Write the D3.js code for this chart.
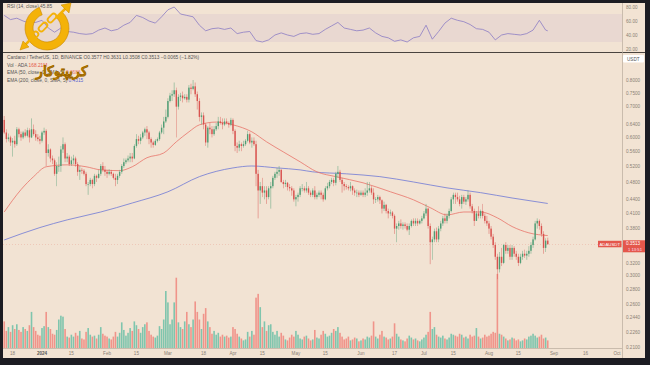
<!DOCTYPE html>
<html><head><meta charset="utf-8">
<script src="https://cdn.jsdelivr.net/npm/d3@7/dist/d3.min.js"></script>
<style>
html,body{margin:0;padding:0;background:#1c1c22;}
svg{display:block;}
text{font-family:"Liberation Sans",Arial,sans-serif;}
</style></head><body>
<svg id="c" width="650" height="365"></svg>
<script>
// ---------------- DATA ----------------
const startDate = "2023-12-14"; // first daily candle
const firstOpen = 0.655;
const closes = [
 0.615,0.595,0.600,0.585,0.590,0.580,0.625,0.610,0.600,0.615,0.605,0.622,0.600,0.625,0.610,0.600,0.595,0.590,
 0.615,0.620,0.555,0.565,0.540,0.535,0.500,0.520,0.520,0.565,0.580,0.540,0.545,0.525,0.535,0.540,0.525,0.505,0.510,0.508,0.500,0.475,0.475,0.485,0.475,0.495,0.490,0.500,0.520,0.510,0.505,
 0.500,0.505,0.500,0.490,0.485,0.495,0.505,0.520,0.530,0.535,0.540,0.545,0.540,0.575,0.595,0.590,0.600,0.615,0.625,0.615,0.595,0.585,0.578,0.590,0.595,0.615,0.630,0.650,0.665,
 0.720,0.740,0.745,0.760,0.700,0.735,0.740,0.730,0.735,0.725,0.770,0.765,0.775,0.745,0.720,0.665,0.670,0.640,0.585,0.630,0.625,0.610,0.625,0.635,0.650,0.645,0.640,0.650,0.645,0.640,0.655,
 0.620,0.575,0.570,0.580,0.575,0.580,0.590,0.610,0.585,0.590,0.580,0.500,0.460,0.470,0.455,0.460,0.445,0.465,0.470,0.490,0.500,0.505,0.510,0.480,0.475,0.478,0.468,0.465,0.460,0.440,
 0.445,0.450,0.465,0.465,0.460,0.465,0.455,0.450,0.460,0.445,0.450,0.455,0.450,0.440,0.465,0.470,0.480,0.485,0.478,0.500,0.505,0.485,0.475,0.470,0.468,0.465,0.470,0.460,0.455,0.455,0.450,
 0.455,0.450,0.455,0.460,0.465,0.455,0.440,0.440,0.445,0.438,0.420,0.428,0.415,0.410,0.412,0.405,0.380,0.385,0.390,0.385,0.388,0.385,0.378,0.385,0.395,0.390,0.395,0.390,0.395,0.400,
 0.410,0.420,0.385,0.355,0.360,0.375,0.360,0.380,0.390,0.400,0.395,0.405,0.415,0.440,0.450,0.445,0.440,0.430,0.445,0.435,0.440,0.450,0.425,0.415,0.395,0.410,0.405,0.415,0.405,0.395,0.390,
 0.380,0.365,0.350,0.330,0.310,0.330,0.320,0.350,0.340,0.345,0.330,0.345,0.335,0.330,0.320,0.330,0.335,0.332,0.335,0.340,0.350,0.360,0.390,0.395,0.385,0.370,0.345,0.3578,0.3513
];
const highs = [
 0.668,0.625,0.612,0.605,0.598,0.605,0.632,0.630,0.618,0.620,0.625,0.630,0.628,0.660,0.640,0.622,0.610,0.605,
 0.620,0.630,0.625,0.580,0.568,0.548,0.540,0.530,0.545,0.575,0.600,0.585,0.555,0.550,0.545,0.550,0.545,0.530,0.520,0.515,0.512,0.505,0.480,0.490,0.488,0.500,0.498,0.510,0.525,0.530,0.520,
 0.510,0.512,0.510,0.503,0.500,0.500,0.510,0.525,0.540,0.540,0.548,0.555,0.555,0.580,0.610,0.605,0.610,0.620,0.630,0.635,0.620,0.600,0.590,0.595,0.600,0.620,0.640,0.665,0.690,
 0.730,0.750,0.760,0.790,0.770,0.745,0.750,0.755,0.745,0.745,0.780,0.785,0.800,0.790,0.755,0.730,0.680,0.680,0.645,0.635,0.645,0.635,0.635,0.645,0.665,0.665,0.660,0.660,0.660,0.650,0.662,
 0.660,0.625,0.585,0.590,0.585,0.590,0.595,0.620,0.615,0.600,0.600,0.590,0.510,0.480,0.490,0.470,0.470,0.470,0.480,0.495,0.505,0.515,0.520,0.512,0.485,0.485,0.480,0.475,0.470,0.465,
 0.450,0.455,0.470,0.475,0.470,0.480,0.470,0.460,0.465,0.470,0.455,0.460,0.460,0.455,0.470,0.478,0.485,0.490,0.490,0.505,0.520,0.510,0.490,0.480,0.475,0.472,0.480,0.472,0.465,0.462,0.460,
 0.460,0.460,0.465,0.480,0.480,0.470,0.465,0.445,0.450,0.448,0.440,0.435,0.430,0.420,0.418,0.415,0.408,0.390,0.395,0.398,0.392,0.392,0.390,0.390,0.398,0.400,0.400,0.400,0.398,0.405,
 0.415,0.430,0.422,0.390,0.365,0.380,0.382,0.385,0.395,0.405,0.410,0.410,0.420,0.445,0.455,0.455,0.455,0.448,0.450,0.450,0.445,0.460,0.455,0.430,0.420,0.415,0.425,0.418,0.430,0.410,0.405,
 0.395,0.385,0.370,0.355,0.335,0.338,0.345,0.352,0.355,0.350,0.350,0.350,0.348,0.340,0.335,0.335,0.340,0.342,0.340,0.348,0.355,0.365,0.395,0.400,0.398,0.390,0.375,0.362,0.3631
];
const lows = [
 0.610,0.585,0.588,0.575,0.545,0.570,0.575,0.600,0.590,0.595,0.600,0.600,0.585,0.598,0.605,0.590,0.588,0.580,
 0.585,0.608,0.520,0.545,0.530,0.525,0.495,0.470,0.505,0.505,0.555,0.530,0.530,0.520,0.520,0.525,0.518,0.495,0.485,0.500,0.496,0.470,0.450,0.470,0.465,0.470,0.480,0.488,0.495,0.505,0.495,
 0.490,0.496,0.495,0.486,0.470,0.475,0.490,0.500,0.515,0.525,0.530,0.530,0.530,0.538,0.570,0.580,0.580,0.595,0.605,0.595,0.580,0.570,0.570,0.575,0.585,0.590,0.610,0.610,0.645,
 0.660,0.715,0.720,0.735,0.600,0.690,0.720,0.715,0.725,0.715,0.715,0.745,0.760,0.735,0.690,0.650,0.640,0.625,0.575,0.570,0.610,0.600,0.605,0.620,0.625,0.640,0.625,0.635,0.640,0.630,0.635,
 0.610,0.560,0.555,0.560,0.560,0.570,0.575,0.585,0.580,0.570,0.575,0.470,0.400,0.430,0.445,0.440,0.430,0.440,0.420,0.465,0.485,0.490,0.495,0.478,0.465,0.468,0.460,0.458,0.448,0.435,
 0.425,0.435,0.445,0.458,0.455,0.455,0.450,0.445,0.445,0.440,0.440,0.445,0.440,0.435,0.438,0.460,0.465,0.475,0.470,0.472,0.490,0.480,0.455,0.460,0.462,0.460,0.458,0.450,0.448,0.445,0.445,
 0.448,0.445,0.445,0.448,0.455,0.450,0.430,0.432,0.435,0.430,0.410,0.415,0.410,0.400,0.405,0.400,0.370,0.355,0.378,0.380,0.378,0.380,0.375,0.368,0.382,0.385,0.385,0.385,0.388,0.390,
 0.398,0.405,0.380,0.318,0.325,0.355,0.355,0.355,0.375,0.385,0.390,0.390,0.400,0.412,0.430,0.430,0.435,0.425,0.420,0.430,0.428,0.435,0.420,0.410,0.385,0.395,0.400,0.400,0.400,0.390,0.385,
 0.370,0.360,0.345,0.325,0.295,0.305,0.315,0.318,0.335,0.335,0.325,0.325,0.330,0.325,0.315,0.318,0.325,0.328,0.325,0.330,0.335,0.345,0.358,0.380,0.378,0.365,0.335,0.338,0.3508
];
const volumes = [ // millions
 840,540,660,510,720,600,750,570,510,660,600,540,720,1140,660,540,420,390,
 630,690,1140,660,600,450,420,570,900,1020,990,600,360,330,420,360,480,390,540,300,270,510,630,420,360,390,300,420,660,450,390,
 360,300,270,360,510,360,480,810,570,390,480,630,540,840,720,600,480,660,750,810,540,420,360,330,390,690,600,900,1800,
 1440,750,900,1440,2220,810,660,600,840,1140,750,660,900,1470,1140,900,600,1080,1260,840,660,450,540,420,480,360,420,360,390,330,360,
 660,600,450,360,300,240,270,510,360,540,420,1590,1710,1290,660,840,540,720,750,510,420,540,360,480,390,270,240,330,420,360,
 540,420,300,270,360,390,300,240,270,570,330,300,420,540,450,360,390,480,600,540,660,480,360,270,300,360,240,270,330,300,210,
 240,300,270,360,330,390,840,360,300,420,540,360,330,270,300,360,780,450,360,270,240,210,300,390,330,270,300,240,210,270,
 330,420,510,1140,600,660,420,360,330,390,300,270,330,450,420,390,360,450,420,330,360,300,420,360,390,630,360,300,330,420,360,
 390,450,510,480,2340,450,420,360,300,240,270,330,300,240,270,210,240,300,270,360,390,450,390,330,360,420,300,330,240
];
const rsiDay = [0,3,6,9,12,15,18,21,24,27,30,33,36,39,42,45,48,51,54,57,60,63,66,69,72,75,78,81,84,87,90,93,96,99,102,105,108,111,114,117,120,123,126,129,132,135,138,141,144,147,150,153,156,159,162,165,168,171,174,177,180,183,186,189,192,195,198,201,204,207,210,213,216,219,222,225,228,231,234,237,240,243,246,249,252,255,258,259];
const rsiVal = [68,62,64,60,57,58,61,50,44,50,45,44,42,41,42,47,50,46,48,54,58,68,65,60,57,66,76,80,70,68,66,54,46,49,50,48,50,42,44,45,32,30,33,40,43,40,38,42,43,41,42,48,53,58,50,48,46,47,50,43,38,36,31,33,30,36,38,54,34,45,57,64,61,59,55,49,48,44,33,40,42,41,40,42,47,61,47,46];
// EMA lines
const ema50Day = [0,8,14,20,30,39,46,55,61,68,76,82,88,93,101,109,118,125,133,141,149,158,171,184,195,203,211,219,227,235,242,250,259];
const ema50Val = [0.413,0.462,0.493,0.518,0.523,0.518,0.510,0.508,0.518,0.542,0.555,0.587,0.617,0.639,0.648,0.639,0.617,0.587,0.558,0.531,0.505,0.493,0.478,0.457,0.439,0.422,0.407,0.413,0.413,0.401,0.384,0.372,0.367];
const ema200Day = [0,17,30,46,61,78,93,109,118,130,141,147,163,179,195,211,227,242,259];
const ema200Val = [0.359,0.382,0.397,0.413,0.432,0.457,0.493,0.515,0.520,0.515,0.510,0.505,0.500,0.493,0.480,0.466,0.455,0.443,0.431];
// axis tick labels
const priceTicks = [0.80,0.75,0.70,0.64,0.60,0.56,0.52,0.48,0.44,0.41,0.38,0.32,0.30,0.28,0.26,0.244,0.226,0.21];
const rsiTicks = [80,60,40,20];
const timeTickDates = ["2023-12-18","2024-01-01","2024-01-15","2024-02-01","2024-02-15","2024-03-01","2024-03-18","2024-04-01","2024-04-15","2024-05-01","2024-05-15","2024-06-01","2024-06-17","2024-07-01","2024-07-15","2024-08-01","2024-08-15","2024-09-01","2024-09-16","2024-10-01"];
const timeTickLabels = ["18","2024","15","Feb","15","Mar","18","Apr","15","May","15","Jun","17","Jul","15","Aug","15","Sep","16","Oct"];
const lastPrice = 0.3513;

// ---------------- DRAW ----------------
const svg = d3.select("#c");
const W = 650, H = 365;
const BG = "#f2e3d3", FRAME = "#1c1c22", SEP = "#4a443f", AX = "#8a7f74";
const UP = "#4f9d74", DN = "#d9534f";
const L = 3, R = 622, RSI_T = 3, RSI_B = 52, MAIN_T = 53, MAIN_B = 348.5, TIME_B = 358;

const day0 = new Date(startDate + "T00:00:00Z").getTime();
const dateOf = i => new Date(day0 + i * 864e5);
const opens = closes.map((c, i) => i === 0 ? firstOpen : closes[i - 1]);
const candles = closes.map((c, i) => ({d: dateOf(i), o: opens[i], h: highs[i], l: lows[i], c: c, v: volumes[i]}));

const x = d3.scaleUtc().domain([new Date("2024-01-01T00:00:00Z"), new Date("2024-10-01T00:00:00Z")]).range([42, 617]);
const y = d3.scaleLog().domain([0.8, 0.21]).range([80, 347]);
const yv = d3.scaleLinear().domain([0, 2400]).range([348, 272]);
const yr = d3.scaleLinear().domain([20, 80]).range([49, 7]);

svg.append("rect").attr("width", W).attr("height", H).attr("fill", FRAME);
svg.append("rect").attr("x", L).attr("y", RSI_T).attr("width", 645 - L).attr("height", TIME_B - RSI_T).attr("fill", BG);

const defs = svg.append("defs");
defs.append("clipPath").attr("id", "mainclip").append("rect").attr("x", L).attr("y", MAIN_T).attr("width", R - L).attr("height", MAIN_B - MAIN_T);
defs.append("clipPath").attr("id", "rsiclip").append("rect").attr("x", L).attr("y", RSI_T).attr("width", R - L).attr("height", RSI_B - RSI_T);

// RSI pane
const rsiG = svg.append("g").attr("clip-path", "url(#rsiclip)");
rsiG.append("rect").attr("x", L).attr("width", R - L).attr("y", yr(70)).attr("height", yr(30) - yr(70)).attr("fill", "#7e57c2").attr("opacity", 0.075);
rsiG.append("path").datum(rsiDay.map((d, i) => [dateOf(d), rsiVal[i]]))
  .attr("d", d3.line().x(d => x(d[0])).y(d => yr(d[1])))
  .attr("fill", "none").attr("stroke", "#8b7cc4").attr("stroke-width", 0.8);
rsiTicks.forEach(t => svg.append("text").attr("x", 626).attr("y", yr(t) + 1.7).attr("font-size", 4.6).attr("fill", AX).text(t.toFixed(2)));
svg.append("text").attr("x", 7).attr("y", 8).attr("font-size", 4.8).attr("fill", "#555").text("RSI (14, close)  45.85");

// main pane
const mainG = svg.append("g").attr("clip-path", "url(#mainclip)");
const bw = 1.4;
mainG.selectAll("rect.vol").data(candles).enter().append("rect")
  .attr("x", d => x(d.d) - 0.8).attr("width", 1.6)
  .attr("y", d => yv(d.v)).attr("height", d => yv(0) - yv(d.v))
  .attr("fill", d => d.c >= d.o ? "#7fc5ad" : "#f0948a");
// EMA lines
mainG.append("path").datum(ema200Day.map((d, i) => [dateOf(d), ema200Val[i]]))
  .attr("d", d3.line().curve(d3.curveMonotoneX).x(d => x(d[0])).y(d => y(d[1])))
  .attr("fill", "none").attr("stroke", "#6f78d6").attr("stroke-width", 0.8);
mainG.append("path").datum(ema50Day.map((d, i) => [dateOf(d), ema50Val[i]]))
  .attr("d", d3.line().curve(d3.curveMonotoneX).x(d => x(d[0])).y(d => y(d[1])))
  .attr("fill", "none").attr("stroke", "#e8746a").attr("stroke-width", 0.8);
// price line
mainG.append("line").attr("x1", L).attr("x2", R).attr("y1", y(lastPrice)).attr("y2", y(lastPrice))
  .attr("stroke", "#e05a4e").attr("stroke-width", 0.5).attr("stroke-dasharray", "1,2").attr("opacity", 0.5);
// candles
mainG.selectAll("line.wick").data(candles).enter().append("line")
  .attr("x1", d => x(d.d)).attr("x2", d => x(d.d))
  .attr("y1", d => y(Math.max(d.h, d.o, d.c))).attr("y2", d => y(Math.min(d.l, d.o, d.c)))
  .attr("stroke", d => d.c >= d.o ? UP : DN).attr("stroke-width", 0.6).attr("opacity", 0.75);
mainG.selectAll("rect.body").data(candles).enter().append("rect")
  .attr("x", d => x(d.d) - bw / 2).attr("width", bw)
  .attr("y", d => y(Math.max(d.o, d.c)))
  .attr("height", d => Math.max(0.6, y(Math.min(d.o, d.c)) - y(Math.max(d.o, d.c))))
  .attr("fill", d => d.c >= d.o ? UP : DN);

// separators
svg.append("line").attr("x1", L).attr("x2", 645).attr("y1", 52.5).attr("y2", 52.5).attr("stroke", SEP).attr("stroke-width", 1);
svg.append("line").attr("x1", L).attr("x2", R).attr("y1", MAIN_B).attr("y2", MAIN_B).attr("stroke", "#b9ab9c").attr("stroke-width", 0.7);
svg.append("line").attr("x1", R + 0.5).attr("x2", R + 0.5).attr("y1", RSI_T).attr("y2", TIME_B).attr("stroke", "#b9ab9c").attr("stroke-width", 0.7);

// price axis
priceTicks.forEach(t => {
  svg.append("text").attr("x", 626).attr("y", y(t) + 1.7).attr("font-size", 4.6).attr("fill", AX).text(t.toFixed(4));
});
svg.append("rect").attr("x", 623).attr("y", 55).attr("width", 21).attr("height", 7.5).attr("fill", "#ffffff").attr("rx", 1);
svg.append("text").attr("x", 627).attr("y", 60.5).attr("font-size", 4.6).attr("fill", "#555").text("USDT");
// last price label
const ly = y(lastPrice);
svg.append("rect").attr("x", 623).attr("y", ly - 4).attr("width", 22).attr("height", 12).attr("fill", "#e4574b");
svg.append("text").attr("x", 626).attr("y", ly + 1.2).attr("font-size", 4.6).attr("fill", "#fff").text(lastPrice.toFixed(4));
svg.append("text").attr("x", 628).attr("y", ly + 6.5).attr("font-size", 4.2).attr("fill", "#fde").text("1 13:51");
svg.append("rect").attr("x", 598).attr("y", ly - 3.5).attr("width", 23.5).attr("height", 6.5).attr("fill", "#e4574b");
svg.append("text").attr("x", 599.5).attr("y", ly + 1.3).attr("font-size", 4.3).attr("fill", "#fff").text("ADAUSDT");

// time axis
timeTickDates.forEach((d, i) => {
  svg.append("text").attr("x", x(new Date(d + "T00:00:00Z"))).attr("y", 355).attr("text-anchor", "middle")
    .attr("font-size", 4.6).attr("fill", timeTickLabels[i] === "2024" ? "#555" : AX)
    .attr("font-weight", timeTickLabels[i] === "2024" ? "bold" : "normal").text(timeTickLabels[i]);
});

// legend
const lg = svg.append("g").attr("font-size", 4.8).attr("fill", "#555");
lg.append("text").attr("x", 7).attr("y", 59).text("Cardano / TetherUS, 1D, BINANCE  O0.3577  H0.3631  L0.3508  C0.3513  −0.0065 (−1.82%)");
const vt = lg.append("text").attr("x", 7).attr("y", 66.5);
vt.append("tspan").text("Vol · ADA  ");
vt.append("tspan").attr("fill", "#e4574b").text("168.21M");
const e1 = lg.append("text").attr("x", 7).attr("y", 74);
e1.append("tspan").text("EMA (50, close, 0, SMA, 5)  ");
e1.append("tspan").attr("fill", "#e8746a").text("0.3686");
const e2 = lg.append("text").attr("x", 7).attr("y", 81.5);
e2.append("tspan").text("EMA (200, close, 0, SMA, 5)  ");
e2.append("tspan").attr("fill", "#5a63d0").text("0.4315");

// watermark logo
const wm = svg.append("g");
const gold = "#f4b208", dark = "#c88600";
const arc = d3.arc().innerRadius(14).outerRadius(22).startAngle(0.75).endAngle(2 * Math.PI - 0.35);
wm.append("path").attr("d", arc()).attr("transform", "translate(47,28)").attr("fill", gold).attr("stroke", dark).attr("stroke-width", 0.6);
[[-9, 9], [0, 0], [9, -9]].forEach(([dx, dy]) => {
  wm.append("rect").attr("x", -5).attr("y", -2.6).attr("width", 10).attr("height", 5.2).attr("rx", 2.6)
    .attr("fill", "none").attr("stroke", gold).attr("stroke-width", 1.8)
    .attr("transform", `translate(${43 + dx},${27 + dy}) rotate(-45)`);
});
wm.append("line").attr("x1", 56).attr("y1", 18).attr("x2", 66).attr("y2", 8).attr("stroke", gold).attr("stroke-width", 2.5);
wm.append("path").attr("d", "M71,3 L61,5 L69,13 Z").attr("fill", gold).attr("stroke", dark).attr("stroke-width", 0.5);
wm.append("line").attr("x1", 32).attr("y1", 38).attr("x2", 25).attr("y2", 45).attr("stroke", gold).attr("stroke-width", 2.5);
wm.append("path").attr("d", "M20,50 L23,41 L29,47 Z").attr("fill", gold).attr("stroke", dark).attr("stroke-width", 0.5);
wm.append("text").attr("x", 62).attr("y", 76).attr("text-anchor", "middle").attr("direction", "rtl")
  .attr("font-family", "DejaVu Sans").attr("font-size", 14).attr("font-weight", "bold")
  .attr("fill", gold).attr("stroke", "#9a6400").attr("stroke-width", 0.4).text("کریپتوکار");
</script>
</body></html>
